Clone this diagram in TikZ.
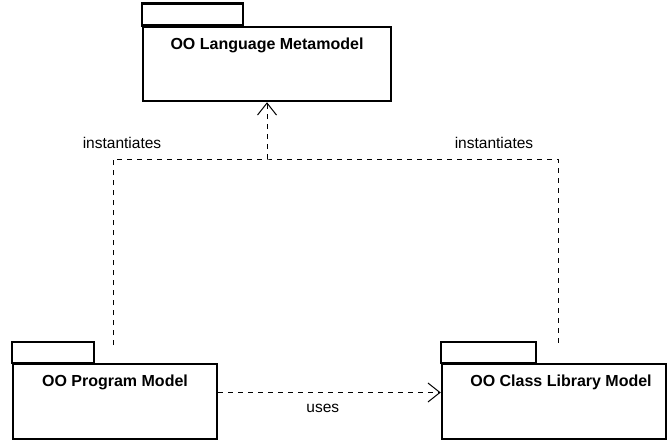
\documentclass[tikz,border=0pt]{standalone}
\usepackage{fontspec}
\setmainfont{Liberation Sans}
\usetikzlibrary{calc}
\usetikzlibrary{arrows.meta}
\usetikzlibrary{positioning}

\begin{document}
\begin{tikzpicture}[x=1pt, y=-1pt]

\tikzset{
    pkg/.style = {
    draw, line width=2.5pt,
    inner sep=0pt
    }
}

\tikzstyle{pkgname}=[inner sep=0pt, font=\fontsize{16}{19}\selectfont\bfseries]
\tikzstyle{dep}=[dash pattern=on 5pt off 5pt, line width=1pt]
\tikzstyle{lbl}=[inner sep=0pt, font=\fontsize{15.5}{18}\selectfont]

\useasboundingbox (0,0) rectangle (668,441);

% packages
\node (lang) [pkg, minimum width=248pt, minimum height=74pt] at (267,64) {};
\node (prog) [pkg, minimum width=204pt, minimum height=75pt] at (115,401.5) {};
\node (lib) [pkg, minimum width=224pt, minimum height=75pt] at (554,401.5) {};

\draw[line width=2.5pt] (lang.north west) rectangle ++(101,-22);
\draw[line width=2.5pt] (prog.north west) rectangle ++(82,-21);
\draw[line width=2.5pt] (lib.north west) rectangle ++(95,-21);

\node (lang-t) [pkgname, below=12pt of lang.north] {OO Language Metamodel};
\node (prog-t) [pkgname, below=12pt of prog.north] {OO Program Model};
\node (lib-t) [pkgname, below=12pt of lib.north, xshift=7pt] {OO Class Library Model};

% instantiates
\coordinate (prog-in) at (113,345);
\coordinate (lib-in) at (558,345);
\coordinate (join) at (267,159);

\draw[dep] (prog-in) |- (join) -| (lib-in);
\draw[dep, -{Straight Barb[length=12pt, width=19pt]}] (join) -- (lang.south);

\node (inst-l) [lbl] at (122,143) {instantiates};
\node (inst-r) [lbl] at (494,143) {instantiates};

% uses
\draw[dep, -{Straight Barb[length=12pt, width=19pt]}] ([yshift=9pt]prog.east) -- ([yshift=9pt]lib.west)
    node (uses-t) [lbl, pos=0.47, below=11pt] {uses};

\end{tikzpicture}
\end{document}
